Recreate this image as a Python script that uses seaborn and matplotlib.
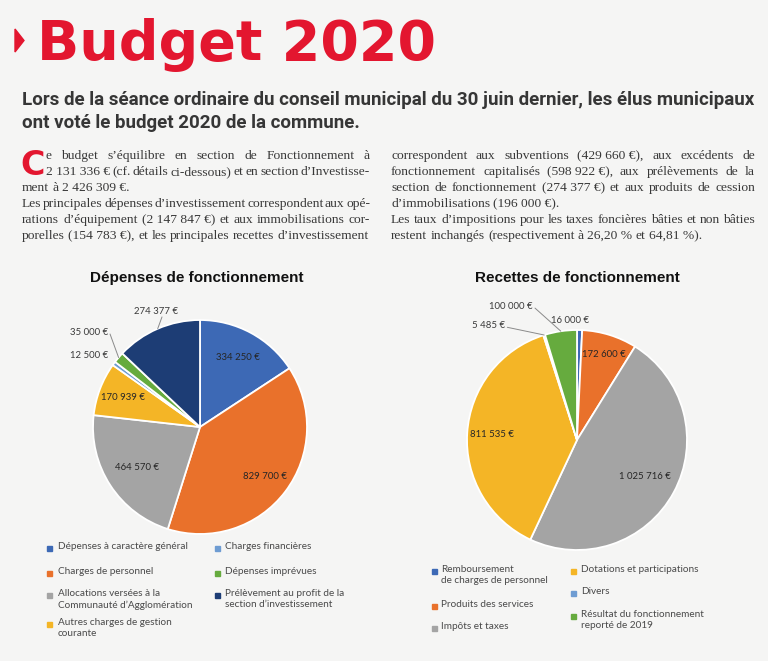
import re
import numpy as np
import matplotlib
matplotlib.use("Agg")
import matplotlib.pyplot as plt
import seaborn as sns
from matplotlib.patches import Rectangle, Polygon

# ---------------- data ----------------
dep_title = "Dépenses de fonctionnement"
dep_labels = ["Dépenses à caractère général", "Charges de personnel",
              "Allocations versées à la\nCommunauté d’Agglomération",
              "Autres charges de gestion\ncourante", "Charges financières",
              "Dépenses imprévues",
              "Prélèvement au profit de la\nsection d’investissement"]
dep_values = [334250, 829700, 464570, 170939, 12500, 35000, 274377]

rec_title = "Recettes de fonctionnement"
rec_labels = ["Remboursement\nde charges de personnel", "Produits des services",
              "Impôts et taxes", "Dotations et participations", "Divers",
              "Résultat du fonctionnement\nreporté de 2019"]
rec_values = [16000, 172600, 1025716, 811535, 5485, 100000]

title = "Budget 2020"
subtitle = ["Lors de la séance ordinaire du conseil municipal du 30 juin dernier, les élus municipaux",
            "ont voté le budget 2020 de la commune."]
drop_cap = "C"
body_left = ["e budget s’équilibre en section de Fonctionnement à",
             "2 131 336 € (cf. détails ci-dessous) et en section d’Investisse-",
             "ment à 2 426 309 €.",
             "Les principales dépenses d’investissement correspondent aux opé-",
             "rations d’équipement (2 147 847 €) et aux immobilisations cor-",
             "porelles (154 783 €), et les principales recettes d’investissement"]
body_right = ["correspondent aux subventions (429 660 €), aux excédents de",
              "fonctionnement capitalisés (598 922 €), aux prélèvements de la",
              "section de fonctionnement (274 377 €) et aux produits de cession",
              "d’immobilisations (196 000 €).",
              "Les taux d’impositions pour les taxes foncières bâties et non bâties",
              "restent inchangés (respectivement à 26,20 % et 64,81 %)."]

# ---------------- style ----------------
dep_colors = ['#3D69B5', '#E9712B', '#A4A4A4', '#F4B526', '#6E9CD2', '#66AB3E', '#1D3D75']
rec_colors = ['#3D69B5', '#E9712B', '#A4A4A4', '#F4B526', '#6E9CD2', '#66AB3E']
RED = '#E3162F'
BG = '#F5F5F4'

sns.set_theme(style="white")
plt.rcParams['font.family'] = ['Lato', 'DejaVu Sans']

W, H = 768, 661
fig = plt.figure(figsize=(W / 100, H / 100), dpi=100, facecolor=BG)


def fx(px):
    return px / W


def fy(py):
    return 1 - py / H


renderer = fig.canvas.get_renderer()

# title
fig.patches.append(Polygon([[fx(15), fy(29)], [fx(24), fy(40.5)], [fx(15), fy(52)]],
                           closed=True, transform=fig.transFigure, color=RED))
fig.text(fx(37), fy(60), title, fontsize=40, fontweight='heavy', color=RED,
         family=['DejaVu Sans'], va='baseline', ha='left')

# subtitle, sized to span the text block
sub_kw = dict(fontweight='bold', color='#363636', family=['Roboto', 'DejaVu Sans'],
              va='baseline', ha='left')
probe = fig.text(0, 0, subtitle[0], fontsize=12, **sub_kw)
sub_size = 12 * 733 / probe.get_window_extent(renderer).width
probe.remove()
for i, line in enumerate(subtitle):
    fig.text(fx(22), fy(105 + 23 * i), line, fontsize=sub_size, **sub_kw)


def protect(s):
    s = re.sub(r'(\d) (?=\d)', '\\1\u00a0', s)
    s = re.sub(r'(\d) (?=[€%])', '\\1\u00a0', s)
    return s


def justified(line, x0, x1, ybase, justify, **kw):
    words = protect(line).split(' ')
    texts = [fig.text(0, fy(ybase), w, va='baseline', ha='left', **kw) for w in words]
    widths = [t.get_window_extent(renderer).width for t in texts]
    space = texts[0].get_fontsize() * 100 / 72 * 0.25
    if justify and len(words) > 1:
        gap = (x1 - x0 - sum(widths)) / (len(words) - 1)
    else:
        gap = space
    x = x0
    for t, w in zip(texts, widths):
        t.set_x(fx(x))
        x += w + gap


body_kw = dict(fontsize=9.7, color='#383838', family=['Liberation Serif', 'DejaVu Serif'])
ends_par = [False, False, True, False, False, True]
ends_par_r = [False, False, False, True, False, True]
for i, line in enumerate(body_left):
    x0 = 46 if i < 2 else 22
    justified(line, x0, 370, 159 + 16 * i, not ends_par[i], **body_kw)
for i, line in enumerate(body_right):
    justified(line, 391, 755, 159 + 16 * i, not ends_par_r[i], **body_kw)
# drop cap
fig.text(fx(20), fy(175), drop_cap, fontsize=24, fontweight='heavy', color=RED,
         family=['DejaVu Sans'], va='baseline', ha='left')


# ---------------- pies ----------------
def fmt(v):
    return f"{v:,}".replace(",", " ") + " €"


def draw_pie(cx, cy, R, values, colors, specs):
    half = 1.45 * R
    ax = fig.add_axes([fx(cx - half), fy(cy + half), 2 * half / W, 2 * half / H])
    ax.set_facecolor('none')
    wedges, _ = ax.pie(values, colors=colors, startangle=90, counterclock=False,
                       radius=1.0, wedgeprops=dict(edgecolor='white', linewidth=1.3))
    ax.set_xlim(-1.45, 1.45)
    ax.set_ylim(-1.45, 1.45)
    ax.set_aspect('equal')
    ax.axis('off')
    for w, v, spec in zip(wedges, values, specs):
        ang = np.deg2rad((w.theta1 + w.theta2) / 2)
        ex, ey = np.cos(ang), np.sin(ang)
        if spec[0] == 'in':
            r = spec[1]
            ax.text(r * ex, r * ey, fmt(v), ha='center', va='center', fontsize=6.9,
                    color='#262626')
        else:
            _, dx, dy, ha, lead = spec
            tx, ty = ex + dx, ey + dy
            ax.text(tx, ty, fmt(v), ha=ha, va='center', fontsize=6.9, color='#3A3A3A')
            if lead is not None:
                ax.plot([ex, tx + lead[0]], [ey, ty + lead[1]], color='#8A8A8A', lw=0.7)
    return ax


dep_specs = [('in', 0.74), ('in', 0.76), ('in', 0.70), ('in', 0.77),
             ('out', -0.05, 0.07, 'right', None),
             ('out', -0.10, 0.23, 'right', (0.02, -0.01)),
             ('out', -0.02, 0.16, 'center', (0.06, -0.05))]
rec_specs = [('out', -0.09, 0.09, 'center', None), ('in', 0.81), ('in', 0.70), ('in', 0.77),
             ('out', -0.355, 0.09, 'right', (0.02, -0.02)),
             ('out', -0.255, 0.22, 'right', (0.02, -0.01))]

draw_pie(200, 427, 107, dep_values, dep_colors, dep_specs)
draw_pie(577, 440, 110, rec_values, rec_colors, rec_specs)

for cx, t in [(197, dep_title), (577, rec_title)]:
    fig.text(fx(cx), fy(278), t, fontsize=11, fontweight='bold', color='#111111',
             family=['Liberation Sans', 'DejaVu Sans'], ha='center', va='center')


# ---------------- legends ----------------
# rows give the centre of each entry's first line
def place(labels, colors, c1, c2, rows1, rows2):
    cols = [c1] * len(rows1) + [c2] * len(rows2)
    rows = rows1 + rows2
    for lab, col, (mx, tx), r in zip(labels, colors, cols, rows):
        fig.patches.append(Rectangle((fx(mx - 2.5), fy(r + 2.5)), 5 / W, 5 / H,
                                     transform=fig.transFigure, color=col))
        fig.text(fx(tx), fy(r - 6), lab, fontsize=7.2, color='#4A4A4A', ha='left',
                 va='top', linespacing=1.35)


place(dep_labels, dep_colors, (49, 58), (217, 225), [548, 573, 595, 624], [548, 573, 595])
place(rec_labels, rec_colors, (434, 441), (573, 581), [571, 606, 628], [571, 593, 616])

fig.savefig("out.png", dpi=100, facecolor=BG)
